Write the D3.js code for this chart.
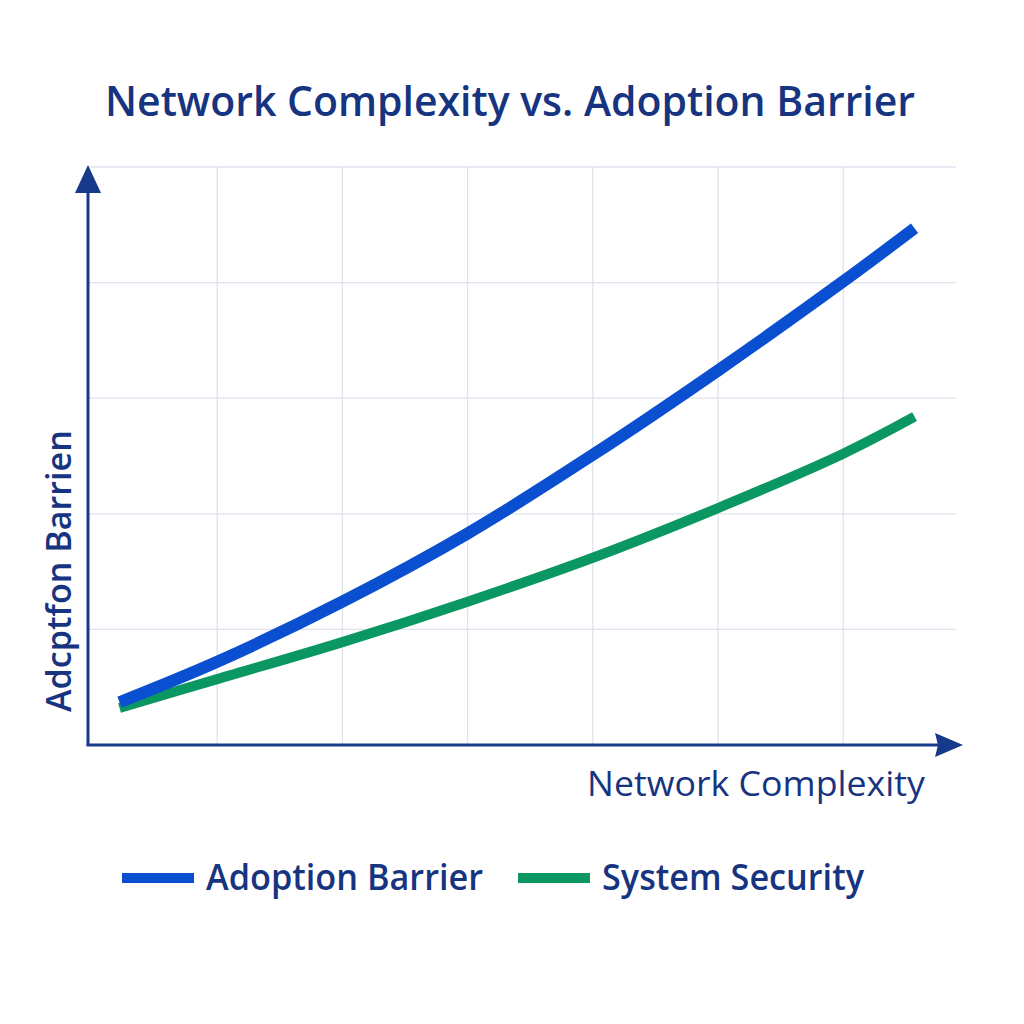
<!DOCTYPE html>
<html>
<head>
<meta charset="utf-8">
<script src="https://cdn.jsdelivr.net/npm/d3@7"></script>
<style>
  body { margin: 0; background: #fff; }
  text { font-family: "Open Sans", "Noto Sans", sans-serif; }
</style>
</head>
<body>
<div id="chart"></div>
<script>
// values (x = complexity, y = barrier)
const xs = [0.22, 1, 2, 3, 4, 5, 6, 6.57];
const adoption = [0.37, 0.72, 1.24, 1.83, 2.51, 3.24, 4.01, 4.47];
const security = [0.32, 0.57, 0.89, 1.24, 1.62, 2.05, 2.52, 2.84];
const seriesNames = ["Adoption Barrier", "System Security"];
const seriesColors = ["#0b4fd1", "#0b9762"];
const xGrid = [1, 2, 3, 4, 5, 6];
const yGrid = [1, 2, 3, 4, 5];

const W = 1024, H = 1024;
const ox = 88, oy = 745;
const navy = "#17398a";
const textColor = "#173480";

var svg = d3.select("#chart").append("svg")
  .attr("width", W).attr("height", H);

var x = d3.scaleLinear().domain([0, 7]).range([92, 968.4]);
var y = d3.scaleLinear().domain([0, 5]).range([oy, 167]);

// grid
svg.append("g").selectAll("line").data(xGrid).enter().append("line")
  .attr("x1", d => x(d)).attr("x2", d => x(d))
  .attr("y1", y(5)).attr("y2", oy)
  .attr("stroke", "#dfe3ee").attr("stroke-width", 1.3);
svg.append("g").selectAll("line").data(yGrid).enter().append("line")
  .attr("x1", ox).attr("x2", 956)
  .attr("y1", d => y(d)).attr("y2", d => y(d))
  .attr("stroke", "#dfe3ee").attr("stroke-width", 1.3);

// axes with arrows
svg.append("line").attr("x1", ox).attr("y1", oy).attr("x2", ox).attr("y2", 185)
  .attr("stroke", navy).attr("stroke-width", 3);
svg.append("path").attr("d", `M${ox},165 L${ox - 13},193 L${ox + 13},193 Z`).attr("fill", navy);
svg.append("line").attr("x1", ox - 1.5).attr("y1", oy).attr("x2", 945).attr("y2", oy)
  .attr("stroke", navy).attr("stroke-width", 3);
svg.append("path").attr("d", `M963,${oy} L935,${oy - 12} L938,${oy} L935,${oy + 12} Z`).attr("fill", navy);

// lines
var line = d3.line()
  .x((d, i) => x(xs[i]))
  .y(d => y(d))
  .curve(d3.curveCatmullRom.alpha(0.5));

svg.append("path").datum(security)
  .attr("d", line).attr("fill", "none")
  .attr("stroke", seriesColors[1]).attr("stroke-width", 10);
svg.append("path").datum(adoption)
  .attr("d", line).attr("fill", "none")
  .attr("stroke", seriesColors[0]).attr("stroke-width", 12);

// title and labels
svg.append("text").attr("x", 105).attr("y", 116)
  .attr("font-size", 41).attr("font-weight", 600)
  .attr("textLength", 810).attr("lengthAdjust", "spacingAndGlyphs")
  .attr("fill", textColor).text("Network Complexity vs. Adoption Barrier");

svg.append("text").attr("x", 587).attr("y", 796)
  .attr("font-size", 34).attr("font-weight", 500)
  .attr("textLength", 338).attr("lengthAdjust", "spacingAndGlyphs")
  .attr("fill", textColor).text("Network Complexity");

svg.append("text")
  .attr("transform", "translate(71,712) rotate(-90)")
  .attr("font-size", 34).attr("font-weight", 600)
  .attr("textLength", 282).attr("lengthAdjust", "spacingAndGlyphs")
  .attr("fill", textColor).text("Adcptfon Barrien");

// legend
var legX = [122, 518];
var legLen = [277, 262];
var leg = svg.append("g").selectAll("g").data(seriesNames).enter().append("g")
  .attr("transform", (d, i) => `translate(${legX[i]},878)`);
leg.append("rect").attr("x", 0).attr("y", -5).attr("width", 72).attr("height", 10)
  .attr("fill", (d, i) => seriesColors[i]);
leg.append("text").attr("x", 84).attr("y", 12)
  .attr("font-size", 36).attr("font-weight", 600)
  .attr("textLength", (d, i) => legLen[i]).attr("lengthAdjust", "spacingAndGlyphs")
  .attr("fill", textColor).text(d => d);
</script>
</body>
</html>
